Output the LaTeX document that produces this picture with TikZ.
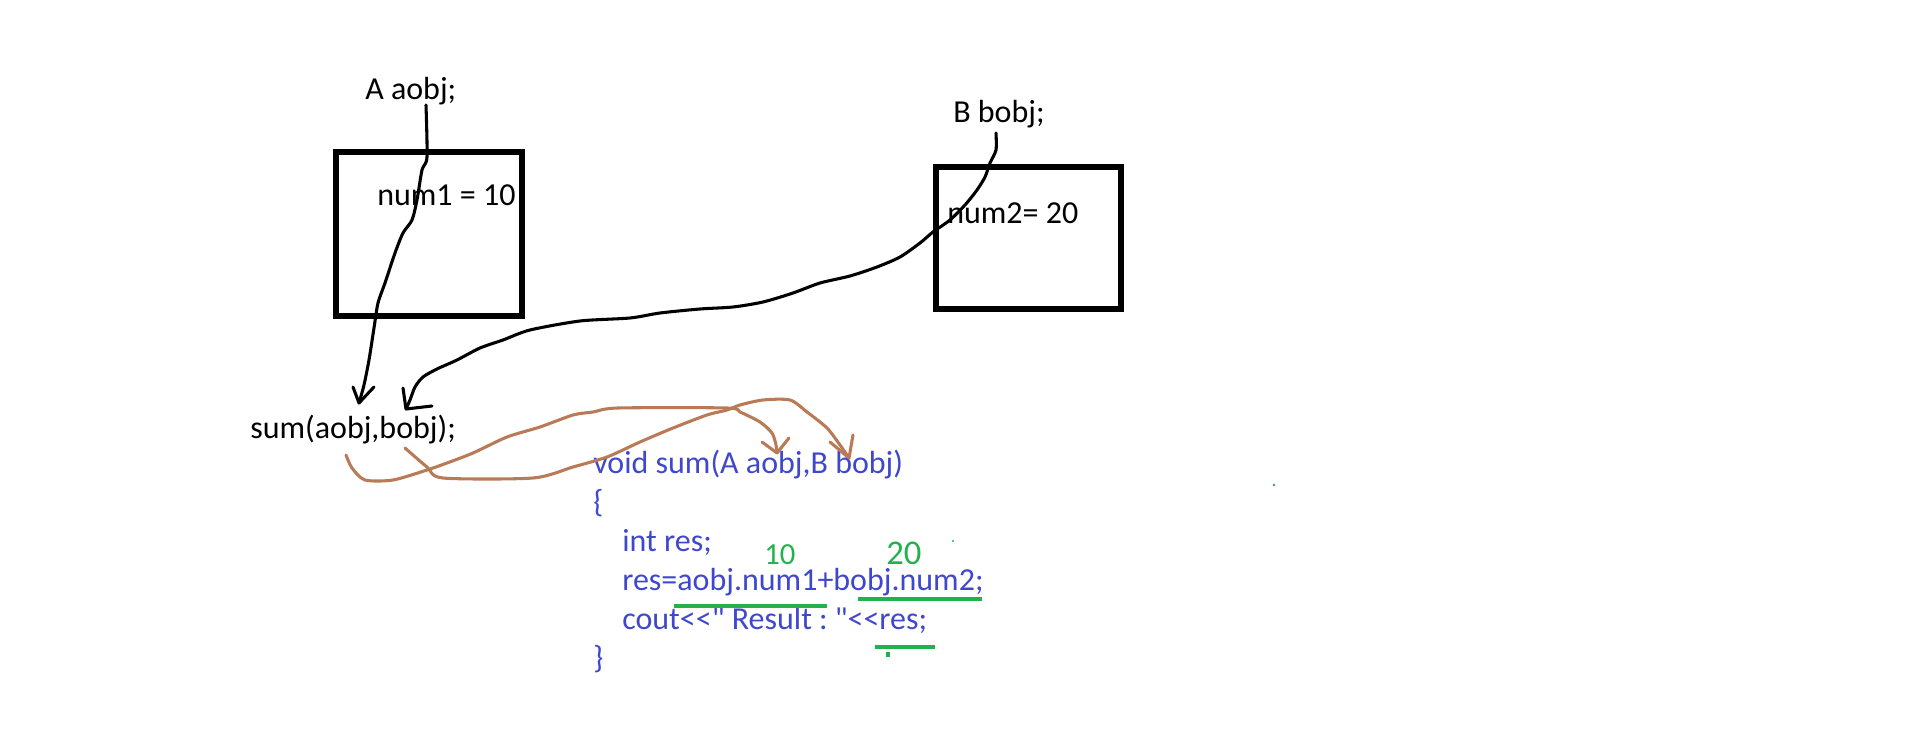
\documentclass[tikz,border=0pt]{standalone}
\usepackage{fontspec}
\setmainfont{Carlito}[Ligatures=TeXOff]
\definecolor{codeblue}{RGB}{63,72,204}
\definecolor{inkbrown}{RGB}{185,122,87}
\definecolor{inkgreen}{RGB}{34,177,76}
\begin{document}
\begin{tikzpicture}[x=0.75pt,y=-0.75pt,
  txt/.style={inner sep=0pt, anchor=base west, font=\fontsize{24}{28}\selectfont},
  code/.style={txt, text=codeblue},
  objbox/.style={draw, line width=4.9pt, inner sep=0pt},
  ink/.style={line width=2.3pt, line cap=round, line join=round},
  blackink/.style={ink, black},
  brownink/.style={ink, inkbrown},
  greenink/.style={line width=2.4pt, inkgreen},
  greennum/.style={inner sep=0pt, anchor=base west, text=inkgreen}]
\useasboundingbox (0,0) rectangle (1914,734);

% object boxes
\node[objbox, minimum width=139.5pt, minimum height=123pt] (boxA) at (429,234) {};
\node[objbox, minimum width=138.75pt, minimum height=106.5pt] (boxB) at (1028.5,238) {};

% black texts
\node[txt] (lblA) at (365,100) {A aobj;};
\node[txt] (num1) at (377,206) {num1 = 10};
\node[txt] (lblB) at (953,123) {B bobj;};
\node[txt] (num2) at (947,224) {num2= 20};
\node[txt] (call) at (250,438) {sum(aobj,bobj);};

% code
\node[code] (c1) at (593,473) {void sum(A aobj,B bobj)};
\node[code] (c2) at (593,512) {\{};
\node[code] (c3) at (622,551) {int res;};
\node[code] (c4) at (622,590) {res=aobj.num1+bobj.num2;};
\node[code] (c5) at (622,629) {cout<{}<" Result :\kern-2pt{} "<{}<res;};
\node[code] (c6) at (593,668) {\}};

% connector end points
\coordinate (aStart) at (426,105);
\coordinate (aTip) at (359,403);
\coordinate (bStart) at (996,133);
\coordinate (bTip) at (406,409);
\coordinate (pStart) at (346,455);
\coordinate (pTip) at (777,453);
\coordinate (qStart) at (405,448);
\coordinate (qTip) at (849,458);

% black connector from aobj
\draw[blackink] plot[smooth, tension=0.45] coordinates {(aStart) (427,157) (422,170) (417,200) (412,220) (403,233) (395,253) (385,283) (378,303) (374,328) (369,360) (364,385) (aTip)};
\draw[blackink] (353,387) -- (aTip) -- (374,387);

% black connector from bobj
\draw[blackink] plot[smooth, tension=0.45] coordinates {(bStart) (996,150) (990,163) (985,177) (977,190) (965,205) (950,220) (933,232) (920,243) (900,257) (877,267) (850,276) (820,283) (793,293) (763,302) (733,307) (700,309) (660,313) (630,318) (580,321) (530,330) (503,340) (480,348) (457,360) (437,369) (423,377) (415,387) (410,400) (bTip)};
\draw[blackink] (403,388) -- (bTip) -- (432,406);

% brown connector aobj -> aobj
\draw[brownink] plot[smooth, tension=0.45] coordinates {(pStart) (352,468) (365,480) (393,480) (427,470) (447,463) (473,453) (507,437) (540,427) (573,415) (593,412) (618,408) (727,408) (740,412) (760,422) (772,433) (776,445) (pTip)};
\draw[brownink] (762,442) -- (pTip) -- (789,438);

% brown connector bobj -> bobj
\draw[brownink] plot[smooth, tension=0.45] coordinates {(qStart) (427,467) (443,478) (533,478) (573,467) (607,457) (640,442) (673,428) (707,415) (727,410) (740,405) (763,400) (790,400) (807,412) (827,428) (840,445) (qTip)};
\draw[brownink] (830,442) -- (qTip) -- (853,435);

% green annotations
\node[greennum, font=\fontsize{23}{28}\selectfont] (ten) at (764,564) {10};
\node[greennum, font=\fontsize{26}{30}\selectfont] (twenty) at (886,564) {20};
\draw[greenink] (674,606) -- (827,606);
\draw[greenink] (858,599) -- (982,599);
\draw[greenink] (875,647) -- (935,647);
\draw[greenink] (888,652) -- (888,657);
\fill[inkgreen] (953,541) circle (0.9pt);
\fill[inkgreen] (1274,485) circle (1pt);
\end{tikzpicture}
\end{document}
